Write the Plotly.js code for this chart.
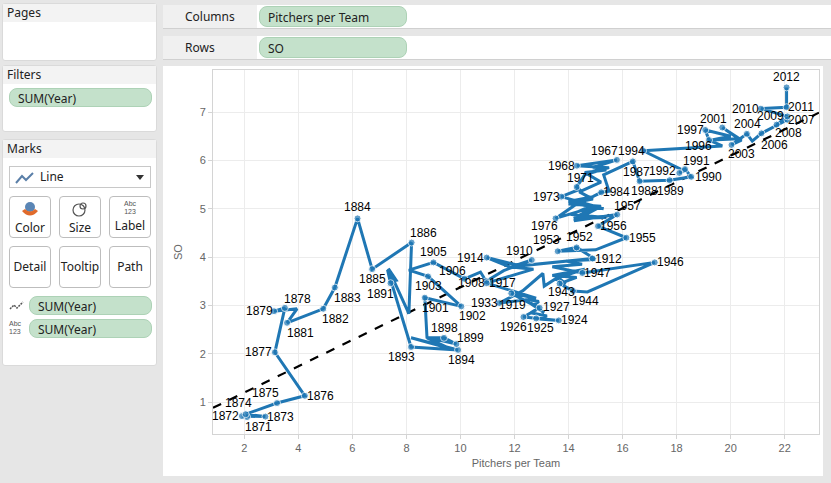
<!DOCTYPE html>
<html><head><meta charset="utf-8">
<script src="https://cdn.plot.ly/plotly-3.0.1.min.js"></script>
<style>
body{margin:0;width:831px;height:483px;background:#e6e6e6;font-family:"Noto Sans","Open Sans",sans-serif;font-size:12px;color:#222;position:relative;overflow:hidden}
.card{position:absolute;background:#fff;border:1px solid #dadada;border-radius:3px}
.hdr{background:#f3f3f3;height:18px;line-height:18px;padding-left:4px;color:#222}
.pill{position:absolute;background:#c4e1cb;border:1px solid #add2b6;border-radius:8px;height:19px;line-height:19px;padding-left:8px;box-sizing:border-box;color:#222}
.btn{position:absolute;width:42px;height:42px;border:1px solid #bdbdbd;border-radius:4px;box-sizing:border-box;background:#fff;text-align:center;font-size:12px}
.abc{font-size:7px;line-height:8px;color:#555;font-family:"Liberation Sans",Arial,sans-serif}
.shelf{position:absolute;left:163px;width:668px;height:23px;background:#fff;border-bottom:1px solid #d0d0d0}
.shelf .lab{position:absolute;left:0;top:0;width:94px;height:23px;background:#f0f0f0;line-height:23px;padding-left:22px;box-sizing:border-box}
#chart{position:absolute;left:163px;top:66px;width:660px;height:410px;background:#fff}
</style></head><body>
<div class="card" style="left:2px;top:3px;width:153px;height:56px"><div class="hdr">Pages</div></div>
<div class="card" style="left:2px;top:65px;width:153px;height:65px"><div class="hdr">Filters</div>
<div class="pill" style="left:6px;top:22px;width:143px">SUM(Year)</div></div>
<div class="card" style="left:2px;top:139px;width:153px;height:225px"><div class="hdr">Marks</div>
<div style="position:absolute;left:6px;top:26px;width:142px;height:22px;border:1px solid #c8c8c8;box-sizing:border-box;line-height:20px">
<svg width="20" height="14" style="position:absolute;left:5px;top:4px"><polyline points="1,12 7,5 11,9 18,2" fill="none" stroke="#5a7fa8" stroke-width="2"/></svg>
<span style="position:absolute;left:30px">Line</span>
<svg width="8" height="6" style="position:absolute;right:6px;top:8px"><polygon points="0,0 8,0 4,5" fill="#333"/></svg></div>
<div class="btn" style="left:6px;top:56px"><svg width="20" height="18" style="margin-top:3px"><circle cx="10" cy="7" r="5" fill="#5b86b5"/><path d="M2,11 Q10,20 18,11 L15,9 Q10,14 5,9Z" fill="#e06a2b"/></svg><div style="margin-top:-3px">Color</div></div>
<div class="btn" style="left:56px;top:56px"><svg width="20" height="18" style="margin-top:3px"><circle cx="9" cy="10" r="6" fill="none" stroke="#555" stroke-width="1.2"/><circle cx="13" cy="6" r="3" fill="none" stroke="#555" stroke-width="1.2"/></svg><div style="margin-top:-3px">Size</div></div>
<div class="btn" style="left:106px;top:56px"><div class="abc" style="margin-top:3px">Abc</div><div class="abc">123</div><div style="margin-top:1px">Label</div></div>
<div class="btn" style="left:6px;top:106px;line-height:40px">Detail</div>
<div class="btn" style="left:56px;top:106px;line-height:40px">Tooltip</div>
<div class="btn" style="left:106px;top:106px;line-height:40px">Path</div>
<svg width="16" height="10" style="position:absolute;left:6px;top:161px"><polyline points="1,8 5,4 8,7 14,1" fill="none" stroke="#555" stroke-width="1.5" stroke-dasharray="2,1"/></svg>
<div class="pill" style="left:26px;top:156px;width:123px">SUM(Year)</div>
<div class="abc" style="position:absolute;left:6px;top:180px">Abc</div><div class="abc" style="position:absolute;left:6px;top:188px">123</div>
<div class="pill" style="left:26px;top:179px;width:123px">SUM(Year)</div>
</div>
<div class="shelf" style="top:5px"><svg width="12" height="12" style="position:absolute;left:6px;top:6px"><rect x="0" y="0" width="3" height="12" fill="#aaa"/><rect x="4.5" y="0" width="3" height="12" fill="#aaa"/><rect x="9" y="0" width="3" height="12" fill="#aaa"/></svg><div class="lab">Columns</div>
<div class="pill" style="left:96px;top:1px;width:148px;height:21px;line-height:21px">Pitchers per Team</div></div>
<div class="shelf" style="top:36px"><svg width="12" height="12" style="position:absolute;left:6px;top:6px"><rect x="0" y="0" width="12" height="3" fill="#aaa"/><rect x="0" y="4.5" width="12" height="3" fill="#aaa"/><rect x="0" y="9" width="12" height="3" fill="#aaa"/></svg><div class="lab">Rows</div>
<div class="pill" style="left:96px;top:1px;width:148px;height:21px;line-height:21px">SO</div></div>
<div id="chart"></div>
<script>
const years = [1871,1872,1873,1874,1875,1876,1877,1878,1879,1880,1881,1882,1883,1884,1885,1886,1887,1888,1889,1890,
1891,1892,1893,1894,1895,1896,1897,1898,1899,1900,1901,1902,1903,1904,1905,1906,1907,1908,1909,1910,
1911,1912,1913,1914,1915,1916,1917,1918,1919,1920,1921,1922,1923,1924,1925,1926,1927,1928,1929,1930,
1931,1932,1933,1934,1935,1936,1937,1938,1939,1940,1941,1942,1943,1944,1945,1946,1947,1948,1949,1950,
1951,1952,1953,1954,1955,1956,1957,1958,1959,1960,1961,1962,1963,1964,1965,1966,1967,1968,1969,1970,
1971,1972,1973,1974,1975,1976,1977,1978,1979,1980,1981,1982,1983,1984,1985,1986,1987,1988,1989,1990,
1991,1992,1993,1994,1995,1996,1997,1998,1999,2000,2001,2002,2003,2004,2005,2006,2007,2008,2009,2010,
2011,2012];
const pitchersPerTeam = [2.10,1.91,2.78,2.05,3.21,4.24,3.13,3.50,3.10,3.95,3.58,4.92,5.35,6.19,6.73,8.19,8.09,7.33,7.62,7.45,
7.41,7.30,8.17,9.91,8.17,9.55,8.76,9.39,9.85,8.76,8.68,10.03,8.80,8.09,9.00,10.15,10.74,10.95,11.60,12.64,
11.90,14.89,12.20,10.97,11.81,12.70,10.97,12.80,11.88,12.90,12.60,13.20,12.90,13.64,12.80,12.33,12.93,12.60,13.10,12.70,
12.90,12.50,11.44,12.30,13.05,13.10,13.60,13.90,13.50,14.60,13.40,14.30,13.67,14.16,14.70,17.19,14.51,13.40,14.50,13.90,
15.00,14.30,13.60,15.00,16.14,15.09,15.80,14.20,15.20,14.00,14.90,14.40,15.20,14.60,15.40,14.90,15.79,14.31,15.50,14.60,
14.30,14.40,13.73,15.30,14.30,13.52,15.00,14.20,15.40,14.10,14.80,14.00,14.90,15.21,15.50,15.30,16.38,16.63,17.74,18.54,
18.31,18.10,18.30,16.76,19.69,19.20,19.06,20.00,19.30,20.30,19.69,20.40,20.03,20.60,20.80,21.14,22.10,21.70,22.10,21.12,
22.07,22.07];
const strikeouts = [0.69,0.71,0.70,0.75,0.98,1.13,2.03,2.95,2.88,2.93,2.64,2.93,3.37,4.80,3.75,4.30,2.83,3.76,3.52,3.50,
3.46,3.74,2.14,2.08,2.33,2.12,2.33,2.33,2.20,2.34,3.16,2.98,3.60,3.73,3.89,3.55,3.69,3.50,3.72,3.94,
3.80,3.97,3.82,3.99,3.80,3.75,3.46,3.15,3.25,2.95,2.85,2.78,2.72,2.69,2.73,2.76,2.95,3.05,2.85,3.00,
3.08,3.12,3.05,3.30,3.66,3.40,3.58,3.45,3.55,3.75,3.62,3.58,3.45,3.30,3.28,3.89,3.67,3.80,3.85,3.92,
3.95,4.20,4.12,4.15,4.40,4.64,4.88,4.75,5.05,5.10,5.20,5.35,5.55,5.75,5.80,5.85,6.01,5.89,5.85,5.70,
5.45,5.40,5.25,5.00,5.10,4.80,5.05,4.80,4.82,4.88,5.05,5.15,5.25,5.34,5.36,5.70,5.98,5.57,5.59,5.66,
5.82,5.74,5.78,6.20,6.30,6.42,6.63,6.50,6.42,6.45,6.68,6.42,6.32,6.55,6.40,6.56,6.84,6.74,6.91,7.07,
7.10,7.51];
const labeledYears = [1871,1872,1873,1874,1875,1876,1877,1878,1879,1881,1882,1883,1884,1885,1886,1891,1893,1894,1898,1899,
1901,1902,1903,1905,1906,1908,1910,1912,1914,1917,1919,1924,1925,1926,1927,1933,1943,1944,1946,1947,
1952,1953,1955,1956,1957,1967,1968,1971,1973,1976,1984,1987,1988,1989,1990,1991,1992,1994,1996,1997,
2001,2003,2004,2006,2007,2008,2009,2010,2011,2012];
const xTicks = [2,4,6,8,10,12,14,16,18,20,22];
const yTicks = [1,2,3,4,5,6,7];

// label offsets from their point in screen pixels [right, down] (style only)
const labelShift = {1871:[11,10],1872:[-16,0],1873:[15,0],1874:[-7,-11],1875:[-12,-10],1876:[16,0],1877:[-16,0],1878:[13,-9],
1879:[-15,0],1881:[13,10],1882:[12,10],1883:[13,10],1884:[0,-11],1885:[0,10],1886:[12,-10],1891:[-10,11],1893:[-10,10],
1894:[3,10],1898:[0,-10],1899:[14,-6],1901:[11,10],1902:[11,10],1903:[0,10],1905:[0,-10],1906:[-12,-8],1908:[-15,2],
1910:[-12,-9],1912:[16,0],1914:[-16,0],1917:[16,0],1919:[1,12],1924:[16,0],1925:[4,10],1926:[-10,10],1927:[17,-1],
1933:[-15,0],1943:[2,8],1944:[13,10],1946:[16,0],1947:[15,0],1952:[3,-10],1953:[-11,-11],1955:[16,0],1956:[15,0],
1957:[10,-9],1967:[-12,-9],1968:[-15,0],1971:[4,-9],1973:[-15,0],1976:[-11,8],1984:[15,0],1987:[4,11],1988:[5,10],
1989:[1,11],1990:[17,0],1991:[12,-8],1992:[-17,-2],1994:[-12,0],1996:[-11,6],1997:[-15,0],2001:[-9,-9],2003:[10,9],
2004:[1,-10],2006:[13,12],2007:[14,0],2008:[12,8],2009:[-17,0],2010:[-15,0],2011:[14,0],2012:[0,-10]};

const isLab = years.map(y => labeledYears.includes(y));
const msize = isLab.map(b => b ? 7 : 0);
const labelFont = {family:'"Liberation Sans Narrow","Arial Narrow",Arial,sans-serif', size:12, color:'#000'};
const annotations = years.map((yr,i) => isLab[i] ? {
  x: pitchersPerTeam[i], y: strikeouts[i], text: String(yr), showarrow:false, font: labelFont, borderpad:0,
  xanchor:'center', yanchor:'middle', xshift: labelShift[yr][0], yshift: -labelShift[yr][1]} : null).filter(a => a);

// linear trend (least squares) from the data
const n = years.length;
const mx = pitchersPerTeam.reduce((a,b)=>a+b,0)/n, my = strikeouts.reduce((a,b)=>a+b,0)/n;
let sxy=0, sxx=0;
for(let i=0;i<n;i++){sxy+=(pitchersPerTeam[i]-mx)*(strikeouts[i]-my);sxx+=(pitchersPerTeam[i]-mx)**2;}
const slope = sxy/sxx, icpt = my - slope*mx;
const xr = [0.84, 23.27];

const traces = [
 {x: xr, y: xr.map(v=>icpt+slope*v), mode:'lines', line:{color:'#000',width:2.2,dash:'dash'}, hoverinfo:'skip', showlegend:false},
 {x: pitchersPerTeam, y: strikeouts, mode:'lines+markers',
  line:{color:'#1f77b4', width:3}, marker:{color:'#1f77b4', size:msize}, cliponaxis:false, showlegend:false}
];
const axisFont = {family:'"Liberation Sans",Arial,sans-serif', size:11, color:'#666'};
const layout = {
 width:660, height:410, margin:{l:50,r:4,t:4,b:42}, paper_bgcolor:'#fff', plot_bgcolor:'#fff',
 xaxis:{range:xr, tickvals:xTicks, showgrid:true, gridcolor:'#ececec', zeroline:false, showline:true, mirror:true,
   linecolor:'#d4d4d4', ticks:'outside', ticklen:4, tickcolor:'#d4d4d4', tickfont:axisFont,
   title:{text:'Pitchers per Team', font:axisFont, standoff:6}},
 yaxis:{range:[0.34,7.87], tickvals:yTicks, showgrid:true, gridcolor:'#ececec', zeroline:false, showline:true, mirror:true,
   linecolor:'#d4d4d4', ticks:'outside', ticklen:4, tickcolor:'#d4d4d4', tickfont:axisFont,
   title:{text:'SO', font:axisFont, standoff:14}},
 annotations: annotations,
 showlegend:false
};
Plotly.newPlot('chart', traces, layout, {displayModeBar:false, staticPlot:true});
</script>
</body></html>
